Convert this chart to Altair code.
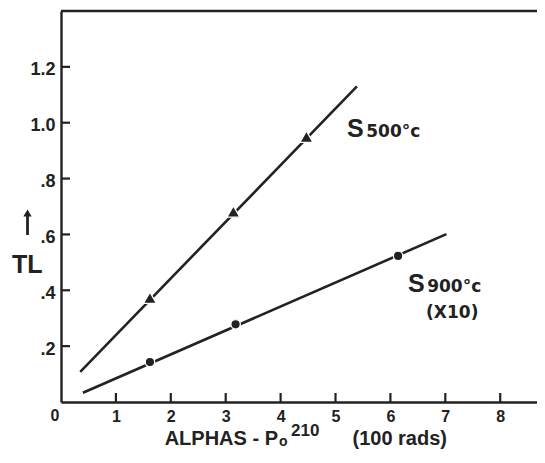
import altair as alt
import pandas as pd

# ---------------- data ----------------
s500_x = [1.62, 3.14, 4.47]
s500_y = [0.373, 0.682, 0.950]
s900_x = [1.62, 3.18, 6.14]
s900_y = [0.143, 0.278, 0.523]

s500_fit_x = [0.35, 5.39]
s500_fit_y = [0.108, 1.130]
s900_fit_x = [0.40, 7.02]
s900_fit_y = [0.033, 0.601]

x_tick_values = [1, 2, 3, 4, 5, 6, 7, 8]
y_tick_values = [0.2, 0.4, 0.6, 0.8, 1.0, 1.2]
origin_label = ["0"]

ann_big = ["S", "S"]
ann_big_x = [5.21, 6.32]
ann_big_y = [0.949, 0.394]
ann_small = ["500°c", "900°c", "(X10)"]
ann_small_x = [5.56, 6.67, 6.65]
ann_small_y = [0.949, 0.394, 0.301]

x_title_main = "ALPHAS - P"
x_title_sub = "o"
x_title_sup = "210"
x_title_unit = "(100 rads)"
y_title = "TL"

# ---------------- layout / style ----------------
W, H = 476, 391
INK = "#222222"
FONT = "Liberation Sans"
FONT2 = "DejaVu Sans"
XDOM = [0, 8.67]
YDOM = [0, 1.4]

xs = alt.Scale(domain=XDOM, nice=False, zero=False)
ys = alt.Scale(domain=YDOM, nice=False, zero=False)

x_axis = alt.Axis(values=x_tick_values, ticks=False, tickSize=0, grid=False,
                  domainColor=INK, domainWidth=2.4, labelFont=FONT,
                  labelFontWeight="bold", labelFontSize=16, labelColor=INK,
                  labelPadding=6, title=None)
y_axis = alt.Axis(values=y_tick_values, ticks=False, tickSize=0, grid=False,
                  domainColor=INK, domainWidth=2.4, labelFont=FONT,
                  labelFontWeight="bold", labelFontSize=18, labelColor=INK,
                  labelPadding=6, labelOffset=3, title=None,
                  labelExpr="datum.value >= 1 ? format(datum.value, '.1f') : replace(format(datum.value, '.1f'), '0.', '.')")


def X():
    return alt.X("x:Q", scale=xs, axis=x_axis)


def Y():
    return alt.Y("y:Q", scale=ys, axis=y_axis)


pts500 = pd.DataFrame({"x": s500_x, "y": s500_y})
pts900 = pd.DataFrame({"x": s900_x, "y": s900_y})
fit500 = pd.DataFrame({"x": s500_fit_x, "y": s500_fit_y})
fit900 = pd.DataFrame({"x": s900_fit_x, "y": s900_fit_y})

line500 = alt.Chart(fit500).mark_line(color=INK, strokeWidth=2.6).encode(x=X(), y=Y())
line900 = alt.Chart(fit900).mark_line(color=INK, strokeWidth=2.6).encode(x=X(), y=Y())
tri = alt.Chart(pts500).mark_point(shape="triangle-up", filled=True, size=170,
                                   color=INK, opacity=1, stroke="white",
                                   strokeWidth=1.3).encode(x=X(), y=Y())
dots = alt.Chart(pts900).mark_point(shape="circle", filled=True, size=90,
                                    color=INK, opacity=1, stroke="white",
                                    strokeWidth=1.3).encode(x=X(), y=Y())

# inward ticks
xt = alt.Chart(pd.DataFrame({"x": x_tick_values})).mark_rule(color=INK, strokeWidth=2.2).encode(
    x=X(), y=alt.value(H), y2=alt.value(H - 9),
)
yt = alt.Chart(pd.DataFrame({"y": y_tick_values})).mark_rule(color=INK, strokeWidth=2.2).encode(
    y=Y(), x=alt.value(0), x2=alt.value(9),
)
# top frame line
top = alt.Chart(pd.DataFrame({"a": [0]})).mark_rule(color=INK, strokeWidth=2.4).encode(
    x=alt.value(0), x2=alt.value(W), y=alt.value(0),
)
# origin label
zero = alt.Chart(pd.DataFrame({"x": [0], "t": origin_label})).mark_text(
    font=FONT, fontWeight="bold", fontSize=16, color=INK, baseline="top",
    align="center", dx=-6, dy=6).encode(x=X(), y=alt.value(H), text="t:N")

# annotations
big = alt.Chart(pd.DataFrame({"x": ann_big_x, "y": ann_big_y, "t": ann_big})).mark_text(
    font=FONT, fontWeight="bold", fontSize=25, color=INK, align="left",
    baseline="alphabetic").encode(x=X(), y=Y(), text="t:N")
small = alt.Chart(pd.DataFrame({"x": ann_small_x, "y": ann_small_y, "t": ann_small})).mark_text(
    font=FONT2, fontWeight="bold", fontSize=17, color=INK, align="left",
    baseline="alphabetic").encode(x=X(), y=Y(), text="t:N")

# x title pieces (pixel placement below the axis)
t_main = alt.Chart(pd.DataFrame({"t": [x_title_main]})).mark_text(
    font=FONT, fontWeight="bold", fontSize=20, color=INK, align="right",
    baseline="alphabetic").encode(x=alt.value(217), y=alt.value(434), text="t:N")
t_sub = alt.Chart(pd.DataFrame({"t": [x_title_sub]})).mark_text(
    font=FONT, fontWeight="bold", fontSize=14, color=INK, align="left",
    baseline="alphabetic").encode(x=alt.value(218), y=alt.value(435), text="t:N")
t_sup = alt.Chart(pd.DataFrame({"t": [x_title_sup]})).mark_text(
    font=FONT, fontWeight="bold", fontSize=17, color=INK, align="left",
    baseline="alphabetic").encode(x=alt.value(230), y=alt.value(425), text="t:N")
t_unit = alt.Chart(pd.DataFrame({"t": [x_title_unit]})).mark_text(
    font=FONT, fontWeight="bold", fontSize=20, color=INK, align="right",
    baseline="alphabetic").encode(x=alt.value(386), y=alt.value(434), text="t:N")

# y title with arrow
t_y = alt.Chart(pd.DataFrame({"t": [y_title]})).mark_text(
    font=FONT, fontWeight="bold", fontSize=25, color=INK, align="left",
    baseline="alphabetic").encode(x=alt.value(-49), y=alt.value(262), text="t:N")
arrow_shaft = alt.Chart(pd.DataFrame({"a": [0]})).mark_rule(color=INK, strokeWidth=2.8).encode(
    x=alt.value(-33.5), y=alt.value(205), y2=alt.value(224))
arrow_head = alt.Chart(pd.DataFrame({"a": [0]})).mark_point(
    shape="triangle-up", filled=True, size=70, color=INK, opacity=1).encode(
    x=alt.value(-33.5), y=alt.value(202))

chart = alt.layer(
    line500, line900, tri, dots, xt, yt, top, zero, big, small,
    t_main, t_sub, t_sup, t_unit, t_y, arrow_shaft, arrow_head,
).properties(
    width=W, height=H,
    autosize=alt.AutoSizeParams(type="none"),
    padding={"left": 53, "top": 3, "right": 0, "bottom": 48},
    background="white",
).configure_view(stroke=None)

chart.save("out.html", embed_options={"renderer": "svg", "actions": False})
